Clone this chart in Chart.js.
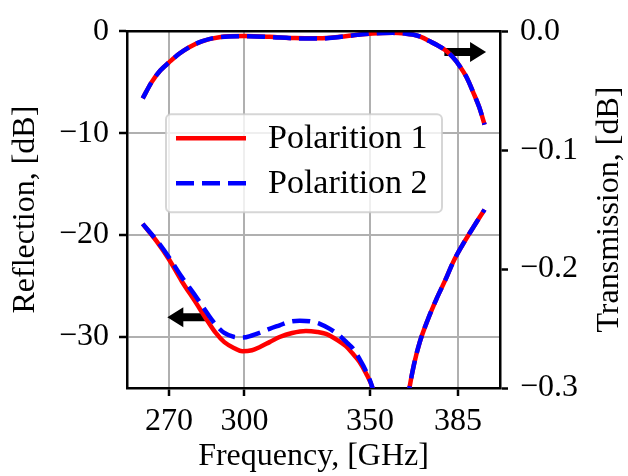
<!DOCTYPE html>
<html>
<head>
<meta charset="utf-8">
<script src="https://cdn.jsdelivr.net/npm/chart.js@4"></script>
<style>
  html, body { margin: 0; padding: 0; background: #fff; }
  #wrap { width: 628px; height: 476px; }
</style>
</head>
<body>
<div id="wrap"><canvas id="myChart" width="628" height="476"></canvas></div>
<script>
// Transmission (right axis), both polarizations
const freqT = [259.5, 263, 266.5, 270, 274, 278, 283, 290, 300, 310, 320, 330, 338, 345, 351, 359, 364, 367, 370.5, 373.6, 377, 380.3, 383, 385.6, 388.5, 391, 393.5, 395.6];
const transPol1 = [-0.0565, -0.043, -0.033, -0.0262, -0.019, -0.0135, -0.0085, -0.005, -0.0041, -0.0047, -0.0058, -0.006, -0.0047, -0.003, -0.0019, -0.0014, -0.002, -0.0028, -0.005, -0.0083, -0.012, -0.0165, -0.022, -0.029, -0.039, -0.051, -0.064, -0.0785];
const transPol2 = [-0.0565, -0.043, -0.033, -0.0262, -0.019, -0.0135, -0.0085, -0.005, -0.0042, -0.0049, -0.006, -0.0062, -0.0048, -0.0031, -0.0019, -0.0014, -0.002, -0.0028, -0.005, -0.0083, -0.012, -0.0165, -0.022, -0.029, -0.039, -0.051, -0.064, -0.0785];

// Reflection (left axis)
const freqR1 = [259.5, 265, 270, 275, 280.6, 285, 288.6, 292, 296, 299.2, 303, 306, 310, 314, 319, 324.5, 329, 332.5, 337, 340.4, 343, 345.7, 348.5, 351, 354, 358, 362, 365.7, 367.5, 369.8, 373, 376.4, 380, 383, 386.5, 389.7, 393, 395.6];
const reflPol1 = [-18.9, -20.6, -22.4, -24.5, -26.6, -28.3, -29.6, -30.5, -31.1, -31.4, -31.3, -31.0, -30.5, -30.0, -29.6, -29.4, -29.5, -29.7, -30.3, -30.9, -31.6, -32.4, -33.6, -35, -38, -44, -41, -35, -32.7, -30.5, -28.3, -26.3, -24.4, -22.7, -21.1, -19.8, -18.5, -17.5];
const freqR2 = [259.5, 265, 270, 275, 280.6, 285, 288.6, 292, 296, 299.2, 303, 306, 310, 314, 318, 322, 326, 330, 334, 338, 341, 343.1, 345.7, 348.5, 351, 354, 358, 362, 365.7, 367.5, 369.8, 373, 376.4, 380, 383, 386.5, 389.7, 393, 395.6];
const reflPol2 = [-18.9, -20.5, -22.2, -24.1, -26.0, -27.6, -28.8, -29.6, -30.0, -30.05, -29.85, -29.6, -29.2, -28.85, -28.5, -28.4, -28.45, -28.7, -29.2, -29.9, -30.6, -31.1, -32.1, -33.4, -35, -38, -44, -41, -35, -32.7, -30.5, -28.3, -26.3, -24.4, -22.7, -21.1, -19.8, -18.5, -17.5];

const xTicks = [270, 300, 350, 385];
const leftTicks = [0, -10, -20, -30];
const rightTicks = [0, -0.1, -0.2, -0.3];
const legendLabels = ['Polarition 1', 'Polarition 2'];

// arrows [fromX, toX, y] in data units
const arrowRefl = [285.5, 269.3, -28.05];
const arrowTrans = [379.6, 396.2, -0.0174];

const FONT = '"Liberation Serif", "DejaVu Serif", serif';
const fontSize = 32;

function pts(xs, ys) {
  return xs.map((x, i) => ({x: x, y: ys[i]}));
}
function minus(s) {
  return String(s).replace('-', '\u2212');
}

const extras = {
  id: 'extras',
  beforeDatasetsDraw(chart) {
    const c = chart.ctx, x = chart.scales.x;
    function arrow(a, ys) {
      const x0 = x.getPixelForValue(a[0]), x1 = x.getPixelForValue(a[1]);
      const y = ys.getPixelForValue(a[2]);
      const dir = Math.sign(x1 - x0);
      const head = 16, hw = 10, sw = 4;
      c.save();
      c.fillStyle = '#000';
      c.beginPath();
      c.moveTo(x0, y - sw);
      c.lineTo(x1 - dir * head, y - sw);
      c.lineTo(x1 - dir * head, y - hw);
      c.lineTo(x1, y);
      c.lineTo(x1 - dir * head, y + hw);
      c.lineTo(x1 - dir * head, y + sw);
      c.lineTo(x0, y + sw);
      c.closePath();
      c.fill();
      c.restore();
    }
    arrow(arrowRefl, chart.scales.y);
    arrow(arrowTrans, chart.scales.yR);
  },
  afterDraw(chart) {
    const c = chart.ctx, a = chart.chartArea;
    // top spine
    c.save();
    c.strokeStyle = '#000';
    c.lineWidth = 2.5;
    c.beginPath();
    c.moveTo(a.left - 1.25, a.top);
    c.lineTo(a.right + 1.25, a.top);
    c.stroke();

    // right axis title, rotated like the left one
    c.font = fontSize + 'px ' + FONT;
    c.fillStyle = '#000';
    c.textAlign = 'center';
    c.textBaseline = 'middle';
    c.translate(610, (a.top + a.bottom) / 2);
    c.rotate(-Math.PI / 2);
    c.fillText('Transmission, [dB]', 0, 0);
    c.restore();

    // legend
    const lx = a.left + 39, ly = a.top + 83, lw = 276, lh = 98;
    c.save();
    c.fillStyle = 'rgba(255,255,255,0.8)';
    c.strokeStyle = 'rgba(204,204,204,0.8)';
    c.lineWidth = 2;
    c.beginPath();
    c.roundRect(lx, ly, lw, lh, 5);
    c.fill();
    c.stroke();
    const ds = [chart.data.datasets[2], chart.data.datasets[3]];
    legendLabels.forEach((lab, i) => {
      const yy = ly + 24 + i * 45;
      c.strokeStyle = ds[i].borderColor;
      c.lineWidth = ds[i].borderWidth;
      c.setLineDash(ds[i].borderDash || []);
      c.beginPath();
      c.moveTo(lx + 10, yy);
      c.lineTo(lx + 80, yy);
      c.stroke();
      c.setLineDash([]);
      c.fillStyle = '#000';
      c.font = '34px ' + FONT;
      c.textAlign = 'left';
      c.textBaseline = 'middle';
      c.fillText(lab, lx + 102, yy + 1);
    });
    c.restore();
  }
};

const ctx = document.getElementById('myChart').getContext('2d');
const common = {pointRadius: 0, borderWidth: 4.5, cubicInterpolationMode: 'monotone', clip: 0, fill: false};

new Chart(ctx, {
  type: 'line',
  data: {
    datasets: [
      Object.assign({label: legendLabels[0], data: pts(freqT, transPol1), borderColor: '#ff0000', yAxisID: 'yR', order: 2}, common),
      Object.assign({label: legendLabels[1], data: pts(freqT, transPol2), borderColor: '#0000ff', borderDash: [18, 8], yAxisID: 'yR', order: 1}, common),
      Object.assign({label: legendLabels[0], data: pts(freqR1, reflPol1), borderColor: '#ff0000', yAxisID: 'y', order: 2}, common),
      Object.assign({label: legendLabels[1], data: pts(freqR2, reflPol2), borderColor: '#0000ff', borderDash: [18, 8], yAxisID: 'y', order: 1}, common)
    ]
  },
  options: {
    responsive: false,
    animation: false,
    layout: {padding: {top: 25, left: 0, right: 0, bottom: 0}},
    plugins: {legend: {display: false}, tooltip: {enabled: false}},
    scales: {
      x: {
        type: 'linear',
        min: 253.25,
        max: 401.75,
        afterBuildTicks: s => { s.ticks = xTicks.map(v => ({value: v})); },
        afterFit: s => { s.height = 88; },
        grid: {color: '#b0b0b0', lineWidth: 2, tickColor: '#000', tickLength: 8, tickWidth: 2.5},
        border: {display: true, color: '#000', width: 2.5},
        ticks: {color: '#000', font: {family: FONT, size: fontSize}, padding: 6, maxRotation: 0, autoSkip: false},
        title: {display: true, text: 'Frequency, [GHz]', color: '#000', font: {family: FONT, size: fontSize}, padding: {top: 0, bottom: 0}}
      },
      y: {
        position: 'left',
        min: -35,
        max: 0,
        afterBuildTicks: s => { s.ticks = leftTicks.map(v => ({value: v})); },
        afterFit: s => { s.width = 127; },
        grid: {color: '#b0b0b0', lineWidth: 2, tickColor: '#000', tickLength: 8, tickWidth: 2.5},
        border: {display: true, color: '#000', width: 2.5},
        ticks: {color: '#000', font: {family: FONT, size: fontSize}, padding: 10, callback: v => minus(v)},
        title: {display: true, text: 'Reflection, [dB]', color: '#000', font: {family: FONT, size: fontSize}, padding: {top: 6, bottom: 0}}
      },
      yR: {
        position: 'right',
        min: -0.3,
        max: 0,
        afterBuildTicks: s => { s.ticks = rightTicks.map(v => ({value: v})); },
        afterFit: s => { s.width = 128; },
        grid: {drawOnChartArea: false, tickColor: '#000', tickLength: 8, tickWidth: 2.5},
        border: {display: true, color: '#000', width: 2.5},
        ticks: {color: '#000', font: {family: FONT, size: fontSize}, padding: 12, callback: v => minus(v.toFixed(1))}
      }
    }
  },
  plugins: [extras]
});
</script>
</body>
</html>
